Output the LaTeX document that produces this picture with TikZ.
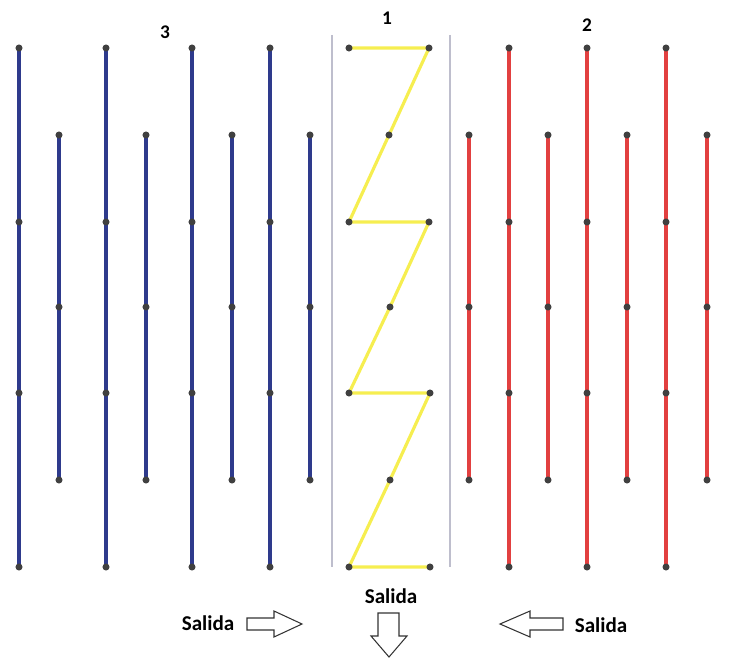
\documentclass[tikz,border=0pt]{standalone}
\usepackage{fontspec}
\setmainfont{Carlito}
\begin{document}
\begin{tikzpicture}[x=0.02cm,y=-0.02cm,
  pt/.style={circle,fill=black!75,inner sep=0pt,minimum size=4pt},
  bluebar/.style={color={rgb,255:red,46;green,58;blue,140},line width=1.8pt},
  redbar/.style={color={rgb,255:red,226;green,64;blue,64},line width=1.8pt},
  yellowbar/.style={color={rgb,255:red,246;green,238;blue,80},line width=1.8pt},
  divider/.style={color={rgb,255:red,190;green,190;blue,205},line width=0.8pt},
  numlabel/.style={font=\bfseries\fontsize{11}{13}\selectfont},
  exitlabel/.style={font=\bfseries\fontsize{12}{14}\selectfont},
  blockarrow/.style={draw=black!80,line width=0.6pt,fill=white,line join=miter}]
\useasboundingbox (0,0) rectangle (742,658);

% long strands (four joints) and short strands (three joints)
\foreach \g/\x in {b1/19,b2/106,b3/192,b4/270}{
  \foreach \y [count=\k] in {48,222,393,567} \coordinate (\g-\k) at (\x,\y);
  \draw[bluebar] (\g-1) -- (\g-4);
}
\foreach \g/\x in {bs1/59,bs2/146,bs3/232,bs4/310}{
  \foreach \y [count=\k] in {135,307,480} \coordinate (\g-\k) at (\x,\y);
  \draw[bluebar] (\g-1) -- (\g-3);
}
\foreach \g/\x in {r1/509,r2/587,r3/666}{
  \foreach \y [count=\k] in {48,222,393,567} \coordinate (\g-\k) at (\x,\y);
  \draw[redbar] (\g-1) -- (\g-4);
}
\foreach \g/\x in {rs1/469,rs2/548,rs3/627,rs4/707}{
  \foreach \y [count=\k] in {135,307,480} \coordinate (\g-\k) at (\x,\y);
  \draw[redbar] (\g-1) -- (\g-3);
}
% joints on the strands
\foreach \g in {b1,b2,b3,b4,r1,r2,r3}
  \foreach \k in {1,...,4} \node[pt] (\g-\k-dot) at (\g-\k) {};
\foreach \g in {bs1,bs2,bs3,bs4,rs1,rs2,rs3,rs4}
  \foreach \k in {1,...,3} \node[pt] (\g-\k-dot) at (\g-\k) {};

% separators around the middle lane
\coordinate (s1t) at (332,35); \coordinate (s1b) at (332,567);
\coordinate (s2t) at (450,35); \coordinate (s2b) at (450,567);
\draw[divider] (s1t) -- (s1b);
\draw[divider] (s2t) -- (s2b);

% yellow zigzag path
\coordinate (z1) at (349,48);
\coordinate (z2) at (429,48);
\coordinate (m1) at (389,135);
\coordinate (z3) at (349,222);
\coordinate (z4) at (429,222);
\coordinate (m2) at (390,307);
\coordinate (z5) at (349,393);
\coordinate (z6) at (430,393);
\coordinate (m3) at (390,480);
\coordinate (z7) at (349,567);
\coordinate (z8) at (430,567);
\draw[yellowbar] (z1) -- (z2) -- (m1) -- (z3) -- (z4) -- (m2) -- (z5) -- (z6)
  -- (m3) -- (z7) -- (z8);
\foreach \n in {z1,z2,m1,z3,z4,m2,z5,z6,m3,z7,z8} \node[pt] (\n-dot) at (\n) {};

% group numbers
\node[numlabel] (n3) at (165,32) {3};
\node[numlabel] (n1) at (387,18) {1};
\node[numlabel] (n2) at (587,25) {2};

% exit labels
\node[exitlabel] (sl) at (208,623) {Salida};
\node[exitlabel] (sm) at (391,596) {Salida};
\node[exitlabel] (sr) at (601,625) {Salida};

% hollow exit arrows
\draw[blockarrow] (247,618) -- (274,618) -- (274,611) -- (302,624) -- (274,637)
  -- (274,630) -- (247,630) -- cycle;
\draw[blockarrow] (563,618) -- (530,618) -- (530,611) -- (500,624) -- (530,637)
  -- (530,630) -- (563,630) -- cycle;
\draw[blockarrow] (378,613) -- (399,613) -- (399,636) -- (407,636) -- (389,657)
  -- (371,636) -- (378,636) -- cycle;
\end{tikzpicture}
\end{document}
